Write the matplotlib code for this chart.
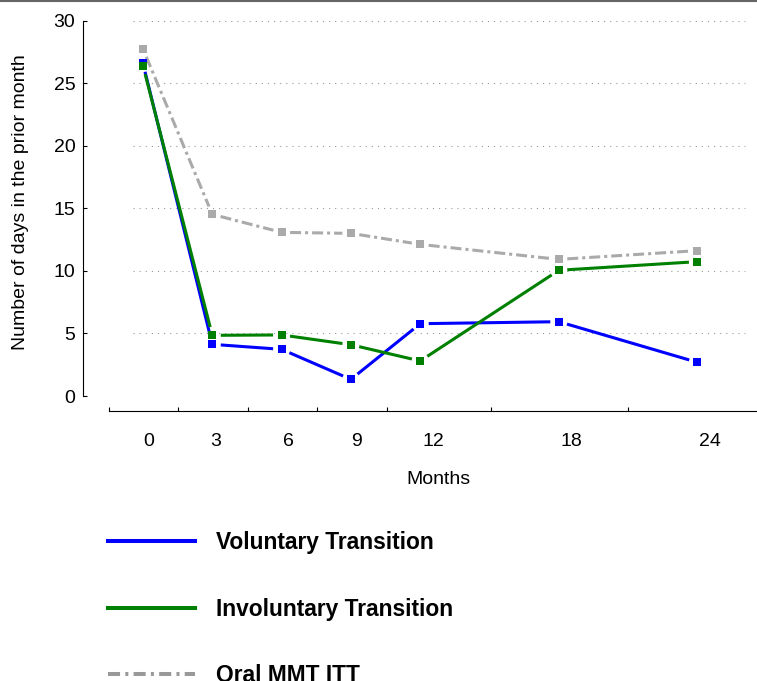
import numpy as np
import matplotlib.pyplot as plt
from matplotlib.lines import Line2D

plt.rcParams['font.family'] = ['Liberation Sans', 'DejaVu Sans']

months = [0, 3, 6, 9, 12, 18, 24]
voluntary = [26.58, 4.13, 3.73, 1.33, 5.78, 5.94, 2.69]
involuntary = [26.4, 4.85, 4.88, 4.1, 2.8, 10.05, 10.74]
oral_itt = [27.74, 14.52, 13.08, 13.0, 12.12, 10.92, 11.62]
y_ticks = [0, 5, 10, 15, 20, 25, 30]

# layout (in month units on the x scale)
label_pos = [0.25, 3.15, 6.3, 9.25, 12.55, 18.55, 24.55]
tick_marks = [-1.47, 1.52, 4.55, 7.53, 10.56, 15.06, 21.0]

W, H = 757, 681
fig = plt.figure(figsize=(W / 100, H / 100), dpi=100)


def px_box(l, t, r, b):
    return [l / W, 1 - b / H, (r - l) / W, (b - t) / H]


ax = fig.add_axes(px_box(83, 20, 757, 411))
ax.set_xlim(-2.597, 26.58)
ax.set_ylim(-1.199, 30.056)

for s in ['top', 'right']:
    ax.spines[s].set_visible(False)
ax.spines['left'].set_bounds(0, 30)
ax.spines['bottom'].set_bounds(-1.47, 26.58)
for s in ['left', 'bottom']:
    ax.spines[s].set_linewidth(0.8)

ax.set_yticks(y_ticks)
ax.tick_params(axis='y', direction='in', length=3, width=0.8, pad=5.5,
               labelsize=14)
ax.set_xticks(label_pos)
ax.set_xticklabels([str(m) for m in months])
ax.set_xticks(tick_marks, minor=True)
ax.tick_params(axis='x', which='major', length=0, pad=16, labelsize=14)
ax.tick_params(axis='x', which='minor', direction='in', length=3, width=0.8)

ax.hlines(y_ticks[1:], -0.43, 26.06, colors='#999999',
          linestyles=(0, (1, 4.5)), linewidth=0.8)


def gapped(x, y, color, gap=8.5, **kw):
    pts = ax.transData.transform(np.column_stack([x, y]))
    inv = ax.transData.inverted()
    for p0, p1 in zip(pts[:-1], pts[1:]):
        d = p1 - p0
        u = d / np.hypot(*d)
        seg = inv.transform(np.array([p0 + u * gap, p1 - u * gap]))
        ax.plot(seg[:, 0], seg[:, 1], color=color, solid_capstyle='butt',
                dash_capstyle='butt', **kw)
    ax.plot(x, y, linestyle='none', marker='s', markersize=5.2,
            color=color, markeredgewidth=0)


gapped(months, oral_itt, '#aaaaaa', linewidth=2.2,
       dashes=(3.6, 1.3, 1.0, 1.3))
gapped(months, voluntary, '#0000ff', linewidth=2.2)
gapped(months, involuntary, '#008000', linewidth=2.2)

fig.text(20.5 / W, 1 - 202 / H, 'Number of days in the prior month',
         rotation=90, ha='center', va='center', fontsize=14)
fig.text(438 / W, 1 - 480 / H, 'Months', ha='center', va='center',
         fontsize=14)

handles = [
    Line2D([], [], color='#0000ff', linewidth=2.9),
    Line2D([], [], color='#008000', linewidth=2.9),
    Line2D([], [], color='#999999', linewidth=2.9,
           dashes=(3, 1.3, 0.75, 1.3)),
]
labels = ['Voluntary Transition', 'Involuntary Transition', 'Oral MMT ITT']
fig.legend(handles, labels, loc='upper left',
           bbox_to_anchor=(108 / W, 1 - 531 / H), frameon=False,
           prop={'size': 16.4, 'weight': 'bold'}, handlelength=3.82,
           handletextpad=0.92, labelspacing=1.91, borderpad=0,
           borderaxespad=0)

fig.add_artist(Line2D([0, 1], [1 - 0.8 / H] * 2, color='#666666',
                      linewidth=1.5, transform=fig.transFigure))

fig.savefig('out.png', dpi=100)
